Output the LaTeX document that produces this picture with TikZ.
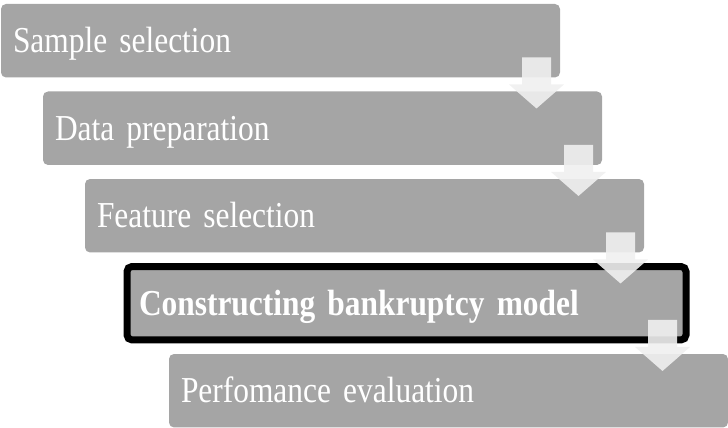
\documentclass[tikz,border=0pt]{standalone}
\usepackage{fontspec}
\setmainfont{Liberation Serif}[FakeStretch=0.86, WordSpace=0.86]
\usepackage{tikz}
\usetikzlibrary{
  calc,
  positioning
}
\definecolor{stagegray}{HTML}{A5A5A5}
\definecolor{flowgray}{HTML}{F0F0F0}
\tikzset{
  stage/.style = {rectangle, rounded corners=3.75pt, fill=stagegray,
      text=white, anchor=north west, align=left,
      minimum width=419.25pt, minimum height=55.1pt,
      text width=401.25pt, inner xsep=9pt, inner ysep=0pt,
      outer sep=0pt,
      execute at begin node={\rule[-0.24em]{0pt}{1.14em}},
      font=\fontsize{27.4}{32}\selectfont},
  current/.style = {stage, draw=black, line width=5.25pt,
      font=\fontsize{27.4}{32}\selectfont\bfseries},
  flow/.style = {fill=flowgray, fill opacity=0.9},
}
% arrow hanging from the lower right corner of a stage
\newcommand{\flowarrow}[1]{%
  \fill[flow] ($(#1.south east)+(-38,-20)$) -- ++(29,0) -- ++(0,27)
    -- ++(13,0) -- ++(-27.5,24) -- ++(-27.5,-24) -- ++(13,0) -- cycle;}

\begin{document}
\begin{tikzpicture}[x=0.75pt, y=-0.75pt]
  \useasboundingbox (0,0) rectangle (728,428);

  \node[stage] (sample) at (1,4) {Sample selection};
  \node[stage] (prep) at (43,91.5) {Data preparation};
  \node[stage] (feature) at (85,179) {Feature selection};
  \node[current] (model) at (127,266.5) {Constructing bankruptcy model};
  \node[stage] (perf) at (169,354) {Perfomance evaluation};

  \flowarrow{sample}
  \flowarrow{prep}
  \flowarrow{feature}
  \flowarrow{model}
\end{tikzpicture}
\end{document}
